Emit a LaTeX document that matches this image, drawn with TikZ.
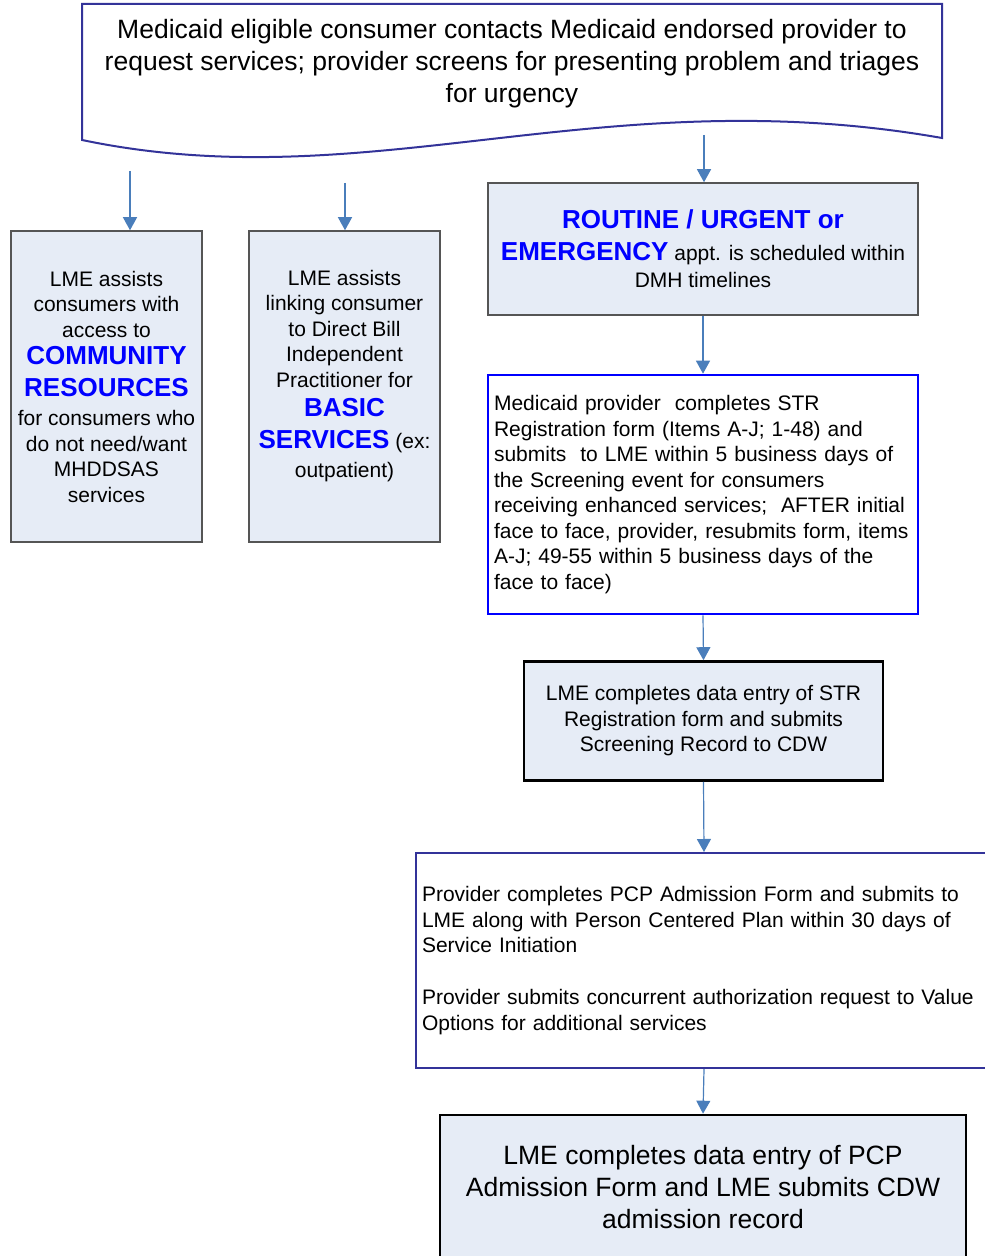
\documentclass[tikz,border=0pt]{standalone}
\usepackage{fontspec}
\setmainfont{Liberation Sans}
\usetikzlibrary{arrows.meta}

\definecolor{boxfill}{RGB}{230,236,246}
\definecolor{boxgray}{RGB}{85,85,85}
\definecolor{navy}{RGB}{51,51,153}
\definecolor{arrowblue}{RGB}{74,126,187}
\definecolor{keyblue}{RGB}{0,0,255}

\newcommand{\bodysize}{\fontsize{10.5}{12.75}\selectfont}
\newcommand{\largesize}{\fontsize{13.25}{16}\selectfont}
\newcommand{\keyword}[1]{{\fontsize{13}{15.5}\selectfont\bfseries\color{keyblue}#1}}

\begin{document}
\begin{tikzpicture}[x=0.5pt, y=-0.5pt,
    greybox/.style={draw=boxgray, line width=0.75pt, fill=boxfill, inner sep=3pt, align=center, font=\bodysize},
    bluebox/.style={draw=keyblue, line width=1.3pt, fill=white, inner sep=3pt, align=left, font=\bodysize},
    blackbox/.style={draw=black, line width=1.3pt, fill=boxfill, inner sep=3pt, align=center, font=\bodysize},
    navybox/.style={draw=navy, line width=1pt, fill=white, inner sep=3pt, align=left, font=\bodysize},
    flow/.style={draw=arrowblue, line width=0.6pt, -{Triangle[width=7pt,length=6.5pt]}}]
    \useasboundingbox (0,0) rectangle (984,1256);

    % Draw the document shape
    \draw[navy, line width=1pt] (82,4) -- (942,4) -- (942,138)
        .. controls (600,78) and (369,200) .. (82,140) -- cycle;
    \node[font=\largesize, align=center] (contact) at (512,64) {Medicaid eligible consumer contacts Medicaid endorsed provider to\\ request services; provider screens for presenting problem and triages\\ for urgency};

    % Draw nodes
    \node[greybox, minimum width=95.5pt, minimum height=155.5pt] (community) at (106.5,386.5) {LME assists\\ consumers with\\ access to\\[1pt] \keyword{COMMUNITY}\\[3pt] \keyword{RESOURCES}\\[2pt] for consumers who\\ do not need/want\\ MHDDSAS\\ services};
    \node[greybox, minimum width=95.5pt, minimum height=155.5pt] (basic) at (344.5,386.5) {LME assists\\ linking consumer\\ to Direct Bill\\ Independent\\ Practitioner for\\[2pt] \keyword{BASIC}\\[3pt] \keyword{SERVICES} (ex:\\[2pt] outpatient)\\ \mbox{}};
    \node[greybox, minimum width=215pt, minimum height=66pt] (routine) at (703,249) {\keyword{ROUTINE / URGENT or}\\[3pt] \keyword{EMERGENCY} appt. is scheduled within\\[1pt] DMH timelines};
    \node[bluebox, minimum height=119.5pt, text width=209pt] (register) at (703,494.5) {Medicaid provider\ \ completes STR\\ Registration form (Items A-J; 1-48) and\\ submits\ \ to LME within 5 business days of\\ the Screening event for consumers\\ receiving enhanced services;\ \ AFTER initial\\ face to face, provider, resubmits form, items\\ A-J; 49-55 within 5 business days of the\\ face to face)};
    \node[blackbox, minimum width=179.5pt, minimum height=59.5pt] (entry) at (703.5,721) {LME completes data entry of STR\\ Registration form and submits\\ Screening Record to CDW};
    \node[navybox, minimum height=107.5pt, text width=282pt] (admission) at (704,960.5) {Provider completes PCP Admission Form and submits to\\ LME along with Person Centered Plan within 30 days of\\ Service Initiation\\[13.25pt] Provider submits concurrent authorization request to Value\\ Options for additional services};
    \node[blackbox, font=\largesize, minimum width=263pt, minimum height=72pt] (record) at (703,1187) {LME completes data entry of PCP\\ Admission Form and LME submits CDW\\ admission record};

    % Draw arrows
    \coordinate (a1) at (130,171);
    \coordinate (a2) at (345,183);
    \coordinate (a3) at (704,135);
    \draw[flow] (a1) -- (a1 |- community.north);
    \draw[flow] (a2) -- (a2 |- basic.north);
    \draw[flow] (a3) -- (a3 |- routine.north);
    \draw[flow] (routine.south) -- (register.north);
    \draw[flow] (register.south) -- (entry.north);
    \draw[flow] (entry.south) -- (admission.north);
    \draw[flow] (admission.south) -- (record.north);
\end{tikzpicture}
\end{document}
